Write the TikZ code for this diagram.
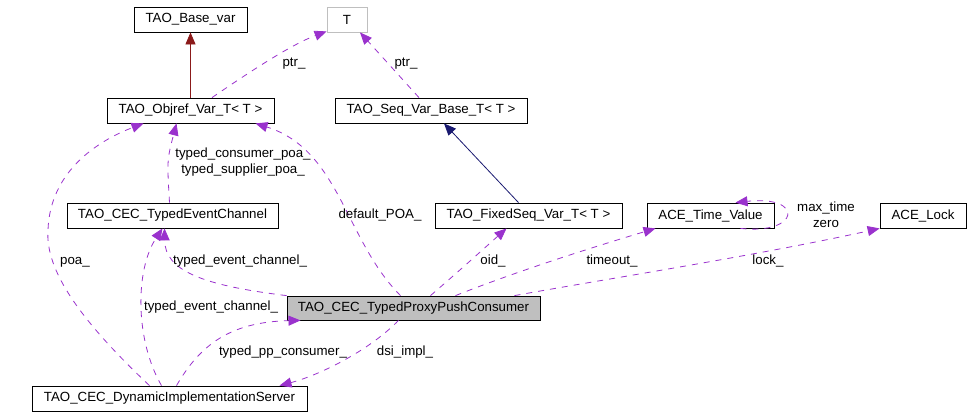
\documentclass[tikz,border=0pt]{standalone}
\usepackage{fontspec}
\setmainfont{Liberation Sans}
\usetikzlibrary{arrows.meta}
\definecolor{usecol}{HTML}{9A32CD}
\definecolor{inhred}{HTML}{8B1A1A}
\definecolor{inhblue}{HTML}{191970}
\definecolor{curfill}{HTML}{BFBFBF}
\begin{document}
\begin{tikzpicture}[x=1pt,y=-1pt]
\tikzset{cls/.style={draw, rectangle, line width=0.8pt, minimum height=25pt, inner sep=0pt, font=\fontsize{13.3}{15}\selectfont}}
\tikzset{lbl/.style={inner sep=0pt, align=center, font=\fontsize{13.3}{16}\selectfont}}
\tikzset{usage/.style={draw=usecol, line width=0.8pt, dash pattern=on 6pt off 6pt, -{Triangle[length=12pt,width=10pt,color=usecol]}}}
\tikzset{inherit/.style={line width=0.8pt, -{Triangle[length=12pt,width=10pt]}}}
\useasboundingbox (0,0) rectangle (971,416);
% classes
\node[cls, minimum width=113pt] (Base) at (190.5,19.5) {TAO\_Base\_var};
\node[cls, minimum width=40pt, draw=gray!50] (Tpar) at (347,19.5) {T};
\node[cls, minimum width=167pt] (Objref) at (190.5,110.5) {TAO\_Objref\_Var\_T< T >};
\node[cls, minimum width=192pt] (SeqBase) at (431,110.5) {TAO\_Seq\_Var\_Base\_T< T >};
\node[cls, minimum width=211pt] (TEC) at (172.5,215.5) {TAO\_CEC\_TypedEventChannel};
\node[cls, minimum width=187pt] (FixSeq) at (528.5,215.5) {TAO\_FixedSeq\_Var\_T< T >};
\node[cls, minimum width=127pt] (TimeVal) at (710.5,215.5) {ACE\_Time\_Value};
\node[cls, minimum width=86pt] (Lock) at (923,215.5) {ACE\_Lock};
\node[cls, minimum width=253pt, minimum height=24pt, fill=curfill] (Proxy) at (413.5,308) {TAO\_CEC\_TypedProxyPushConsumer};
\node[cls, minimum width=275pt] (DSI) at (169.5,398.5) {TAO\_CEC\_DynamicImplementationServer};
% inheritance
\draw[inherit, inhred] (Objref.north) -- (Base.south);
\draw[inherit, inhblue] ([xshift=-10pt]FixSeq.north) -- ([xshift=13pt]SeqBase.south);
% usage
\draw[usage] ([xshift=21.5pt]Objref.north) .. controls (245,75) and (290,45) .. ([yshift=1pt]Tpar.south west);
\draw[usage] ([xshift=-12pt]SeqBase.north) -- ([xshift=13pt]Tpar.south);
\draw[usage] ([xshift=-3pt]TEC.north) .. controls (167,160) .. ([xshift=-14pt]Objref.south);
\draw[usage] ([xshift=-13pt]Proxy.north) .. controls (345,240) and (340,150) .. ([xshift=65pt]Objref.south);
\draw[usage] ([xshift=-20pt]DSI.north) .. controls (80,320) and (45,270) .. (48,230) .. controls (50,170) and (100,140) .. ([xshift=-47pt]Objref.south);
\draw[usage] (Proxy.north west) .. controls (200,285) and (165,270) .. ([xshift=-8pt]TEC.south);
\draw[usage] ([xshift=-8pt]DSI.north) .. controls (135,340) and (135,270) .. ([xshift=-10pt]TEC.south);
\draw[usage] ([xshift=7pt]DSI.north) .. controls (200,345) and (230,322) .. ([xshift=-113pt]Proxy.south);
\draw[usage] ([xshift=-15pt]Proxy.south) .. controls (370,350) and (320,375) .. ([xshift=110pt]DSI.north);
\draw[usage] ([xshift=17pt]Proxy.north) .. controls (460,270) .. ([xshift=-22pt]FixSeq.south);
\draw[usage] ([xshift=42pt]Proxy.north) .. controls (520,270) and (600,245) .. ([xshift=-55pt]TimeVal.south);
\draw[usage] ([xshift=101pt]Proxy.north) .. controls (600,280) and (760,255) .. (Lock.south west);
\draw[usage] ([xshift=30pt]TimeVal.south) .. controls (800,235) and (805,195) .. ([xshift=25pt]TimeVal.north);
% labels
\node[lbl] (lPtrA) at (294,64) {ptr\_};
\node[lbl] (lPtrB) at (406,64) {ptr\_};
\node[lbl] (lPoaTyped) at (243,162) {typed\_consumer\_poa\_\\typed\_supplier\_poa\_};
\node[lbl] (lDefPoa) at (380,215) {default\_POA\_};
\node[lbl] (lPoa) at (75,262) {poa\_};
\node[lbl] (lTecA) at (240,261) {typed\_event\_channel\_};
\node[lbl] (lTecB) at (211,307) {typed\_event\_channel\_};
\node[lbl] (lPP) at (283,352) {typed\_pp\_consumer\_};
\node[lbl] (lDsi) at (405,352) {dsi\_impl\_};
\node[lbl] (lOid) at (493,261) {oid\_};
\node[lbl] (lTimeout) at (612,261) {timeout\_};
\node[lbl] (lLock) at (768,261) {lock\_};
\node[lbl] (lMax) at (826,215) {max\_time\\zero};
\end{tikzpicture}
\end{document}
